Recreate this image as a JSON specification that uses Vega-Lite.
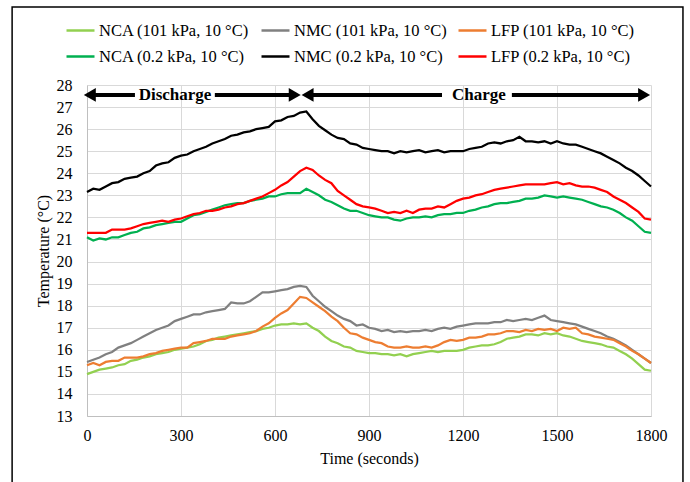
{
  "$schema": "https://vega.github.io/schema/vega-lite/v6.json",
  "width": 564,
  "height": 331,
  "autosize": {"type": "none"},
  "padding": {"left": 87, "top": 85, "right": 39, "bottom": 66},
  "background": "white",
  "config": {
    "font": "Liberation Serif",
    "view": {"stroke": null},
    "axis": {
      "labelFont": "Liberation Serif", "titleFont": "Liberation Serif",
      "labelFontSize": 16, "titleFontSize": 16, "titleFontWeight": "normal",
      "labelColor": "#000", "titleColor": "#000",
      "gridColor": "#D9D9D9", "gridWidth": 1,
      "domainColor": "#BFBFBF", "ticks": false,
      "labelFlush": false, "labelOverlap": false
    },
    "axisX": {"labelPadding": 11, "titlePadding": 7},
    "axisY": {"labelPadding": 15, "titlePadding": 5}
  },
  "datasets": {
    "temps": [
      {"t":0,"NCA1":14.9,"NMC1":15.45,"LFP1":15.3,"NCA2":21.1,"NMC2":23.15,"LFP2":21.3},
      {"t":20,"NCA1":15.0,"NMC1":15.55,"LFP1":15.4,"NCA2":20.95,"NMC2":23.3,"LFP2":21.3},
      {"t":40,"NCA1":15.1,"NMC1":15.65,"LFP1":15.3,"NCA2":21.05,"NMC2":23.25,"LFP2":21.3},
      {"t":60,"NCA1":15.15,"NMC1":15.8,"LFP1":15.45,"NCA2":21.0,"NMC2":23.4,"LFP2":21.3},
      {"t":80,"NCA1":15.2,"NMC1":15.9,"LFP1":15.5,"NCA2":21.1,"NMC2":23.55,"LFP2":21.45},
      {"t":100,"NCA1":15.3,"NMC1":16.1,"LFP1":15.5,"NCA2":21.1,"NMC2":23.6,"LFP2":21.45},
      {"t":120,"NCA1":15.35,"NMC1":16.2,"LFP1":15.65,"NCA2":21.2,"NMC2":23.75,"LFP2":21.45},
      {"t":140,"NCA1":15.5,"NMC1":16.3,"LFP1":15.65,"NCA2":21.3,"NMC2":23.8,"LFP2":21.5},
      {"t":160,"NCA1":15.55,"NMC1":16.45,"LFP1":15.65,"NCA2":21.35,"NMC2":23.85,"LFP2":21.6},
      {"t":180,"NCA1":15.65,"NMC1":16.6,"LFP1":15.7,"NCA2":21.5,"NMC2":24.0,"LFP2":21.7},
      {"t":200,"NCA1":15.7,"NMC1":16.75,"LFP1":15.8,"NCA2":21.55,"NMC2":24.1,"LFP2":21.75},
      {"t":220,"NCA1":15.8,"NMC1":16.9,"LFP1":15.85,"NCA2":21.65,"NMC2":24.35,"LFP2":21.8},
      {"t":240,"NCA1":15.85,"NMC1":17.0,"LFP1":15.95,"NCA2":21.7,"NMC2":24.45,"LFP2":21.85},
      {"t":260,"NCA1":15.9,"NMC1":17.1,"LFP1":16.0,"NCA2":21.75,"NMC2":24.5,"LFP2":21.8},
      {"t":280,"NCA1":16.0,"NMC1":17.3,"LFP1":16.05,"NCA2":21.8,"NMC2":24.7,"LFP2":21.9},
      {"t":300,"NCA1":16.05,"NMC1":17.4,"LFP1":16.1,"NCA2":21.8,"NMC2":24.8,"LFP2":21.95},
      {"t":320,"NCA1":16.1,"NMC1":17.5,"LFP1":16.1,"NCA2":21.95,"NMC2":24.85,"LFP2":22.05},
      {"t":340,"NCA1":16.15,"NMC1":17.6,"LFP1":16.3,"NCA2":22.1,"NMC2":25.0,"LFP2":22.15},
      {"t":360,"NCA1":16.25,"NMC1":17.6,"LFP1":16.35,"NCA2":22.15,"NMC2":25.1,"LFP2":22.2},
      {"t":380,"NCA1":16.4,"NMC1":17.7,"LFP1":16.4,"NCA2":22.25,"NMC2":25.2,"LFP2":22.3},
      {"t":400,"NCA1":16.45,"NMC1":17.75,"LFP1":16.5,"NCA2":22.35,"NMC2":25.35,"LFP2":22.3},
      {"t":420,"NCA1":16.55,"NMC1":17.8,"LFP1":16.5,"NCA2":22.45,"NMC2":25.45,"LFP2":22.35},
      {"t":440,"NCA1":16.6,"NMC1":17.85,"LFP1":16.5,"NCA2":22.55,"NMC2":25.55,"LFP2":22.45},
      {"t":460,"NCA1":16.65,"NMC1":18.15,"LFP1":16.6,"NCA2":22.6,"NMC2":25.7,"LFP2":22.5},
      {"t":480,"NCA1":16.7,"NMC1":18.1,"LFP1":16.65,"NCA2":22.65,"NMC2":25.75,"LFP2":22.6},
      {"t":500,"NCA1":16.75,"NMC1":18.1,"LFP1":16.7,"NCA2":22.65,"NMC2":25.85,"LFP2":22.65},
      {"t":520,"NCA1":16.8,"NMC1":18.2,"LFP1":16.75,"NCA2":22.75,"NMC2":25.9,"LFP2":22.75},
      {"t":540,"NCA1":16.85,"NMC1":18.4,"LFP1":16.85,"NCA2":22.8,"NMC2":26.0,"LFP2":22.85},
      {"t":560,"NCA1":16.95,"NMC1":18.6,"LFP1":17.05,"NCA2":22.85,"NMC2":26.05,"LFP2":22.95},
      {"t":580,"NCA1":17.0,"NMC1":18.6,"LFP1":17.2,"NCA2":22.95,"NMC2":26.1,"LFP2":23.1},
      {"t":600,"NCA1":17.1,"NMC1":18.65,"LFP1":17.45,"NCA2":22.95,"NMC2":26.35,"LFP2":23.25},
      {"t":620,"NCA1":17.15,"NMC1":18.7,"LFP1":17.65,"NCA2":23.05,"NMC2":26.4,"LFP2":23.45},
      {"t":640,"NCA1":17.15,"NMC1":18.75,"LFP1":17.8,"NCA2":23.1,"NMC2":26.55,"LFP2":23.6},
      {"t":660,"NCA1":17.2,"NMC1":18.85,"LFP1":18.1,"NCA2":23.1,"NMC2":26.6,"LFP2":23.85},
      {"t":680,"NCA1":17.15,"NMC1":18.9,"LFP1":18.4,"NCA2":23.1,"NMC2":26.75,"LFP2":24.1},
      {"t":700,"NCA1":17.2,"NMC1":18.85,"LFP1":18.35,"NCA2":23.3,"NMC2":26.8,"LFP2":24.25},
      {"t":720,"NCA1":17.0,"NMC1":18.45,"LFP1":18.15,"NCA2":23.15,"NMC2":26.45,"LFP2":24.15},
      {"t":740,"NCA1":16.85,"NMC1":18.2,"LFP1":17.95,"NCA2":23.0,"NMC2":26.15,"LFP2":23.9},
      {"t":760,"NCA1":16.6,"NMC1":17.95,"LFP1":17.75,"NCA2":22.8,"NMC2":25.95,"LFP2":23.7},
      {"t":780,"NCA1":16.4,"NMC1":17.75,"LFP1":17.5,"NCA2":22.7,"NMC2":25.75,"LFP2":23.55},
      {"t":800,"NCA1":16.3,"NMC1":17.55,"LFP1":17.3,"NCA2":22.55,"NMC2":25.6,"LFP2":23.2},
      {"t":820,"NCA1":16.15,"NMC1":17.4,"LFP1":17.0,"NCA2":22.4,"NMC2":25.55,"LFP2":23.0},
      {"t":840,"NCA1":16.1,"NMC1":17.3,"LFP1":16.75,"NCA2":22.3,"NMC2":25.35,"LFP2":22.8},
      {"t":860,"NCA1":15.95,"NMC1":17.1,"LFP1":16.7,"NCA2":22.3,"NMC2":25.3,"LFP2":22.6},
      {"t":880,"NCA1":15.9,"NMC1":17.15,"LFP1":16.55,"NCA2":22.2,"NMC2":25.15,"LFP2":22.5},
      {"t":900,"NCA1":15.85,"NMC1":17.0,"LFP1":16.45,"NCA2":22.1,"NMC2":25.1,"LFP2":22.45},
      {"t":920,"NCA1":15.85,"NMC1":16.95,"LFP1":16.35,"NCA2":22.05,"NMC2":25.05,"LFP2":22.4},
      {"t":940,"NCA1":15.8,"NMC1":16.85,"LFP1":16.3,"NCA2":22.0,"NMC2":25.0,"LFP2":22.3},
      {"t":960,"NCA1":15.8,"NMC1":16.9,"LFP1":16.15,"NCA2":22.0,"NMC2":25.0,"LFP2":22.2},
      {"t":980,"NCA1":15.75,"NMC1":16.8,"LFP1":16.1,"NCA2":21.9,"NMC2":24.9,"LFP2":22.25},
      {"t":1000,"NCA1":15.8,"NMC1":16.85,"LFP1":16.1,"NCA2":21.85,"NMC2":25.0,"LFP2":22.2},
      {"t":1020,"NCA1":15.7,"NMC1":16.8,"LFP1":16.15,"NCA2":21.95,"NMC2":24.95,"LFP2":22.3},
      {"t":1040,"NCA1":15.8,"NMC1":16.85,"LFP1":16.1,"NCA2":22.0,"NMC2":25.0,"LFP2":22.2},
      {"t":1060,"NCA1":15.85,"NMC1":16.85,"LFP1":16.1,"NCA2":22.0,"NMC2":25.05,"LFP2":22.35},
      {"t":1080,"NCA1":15.9,"NMC1":16.9,"LFP1":16.15,"NCA2":22.05,"NMC2":24.95,"LFP2":22.4},
      {"t":1100,"NCA1":15.95,"NMC1":16.85,"LFP1":16.1,"NCA2":22.0,"NMC2":25.0,"LFP2":22.4},
      {"t":1120,"NCA1":15.9,"NMC1":16.95,"LFP1":16.2,"NCA2":22.1,"NMC2":25.05,"LFP2":22.5},
      {"t":1140,"NCA1":15.95,"NMC1":17.0,"LFP1":16.35,"NCA2":22.15,"NMC2":24.95,"LFP2":22.45},
      {"t":1160,"NCA1":15.95,"NMC1":16.95,"LFP1":16.45,"NCA2":22.15,"NMC2":25.0,"LFP2":22.6},
      {"t":1180,"NCA1":15.95,"NMC1":17.05,"LFP1":16.4,"NCA2":22.2,"NMC2":25.0,"LFP2":22.75},
      {"t":1200,"NCA1":16.0,"NMC1":17.1,"LFP1":16.45,"NCA2":22.2,"NMC2":25.0,"LFP2":22.85},
      {"t":1220,"NCA1":16.1,"NMC1":17.15,"LFP1":16.55,"NCA2":22.3,"NMC2":25.1,"LFP2":22.9},
      {"t":1240,"NCA1":16.15,"NMC1":17.2,"LFP1":16.55,"NCA2":22.35,"NMC2":25.15,"LFP2":23.0},
      {"t":1260,"NCA1":16.2,"NMC1":17.2,"LFP1":16.6,"NCA2":22.45,"NMC2":25.2,"LFP2":23.05},
      {"t":1280,"NCA1":16.2,"NMC1":17.2,"LFP1":16.7,"NCA2":22.5,"NMC2":25.35,"LFP2":23.15},
      {"t":1300,"NCA1":16.25,"NMC1":17.25,"LFP1":16.7,"NCA2":22.6,"NMC2":25.4,"LFP2":23.25},
      {"t":1320,"NCA1":16.35,"NMC1":17.25,"LFP1":16.75,"NCA2":22.65,"NMC2":25.35,"LFP2":23.3},
      {"t":1340,"NCA1":16.5,"NMC1":17.35,"LFP1":16.85,"NCA2":22.65,"NMC2":25.45,"LFP2":23.35},
      {"t":1360,"NCA1":16.55,"NMC1":17.3,"LFP1":16.85,"NCA2":22.7,"NMC2":25.5,"LFP2":23.4},
      {"t":1380,"NCA1":16.6,"NMC1":17.35,"LFP1":16.8,"NCA2":22.75,"NMC2":25.65,"LFP2":23.45},
      {"t":1400,"NCA1":16.7,"NMC1":17.4,"LFP1":16.9,"NCA2":22.85,"NMC2":25.45,"LFP2":23.5},
      {"t":1420,"NCA1":16.7,"NMC1":17.35,"LFP1":16.85,"NCA2":22.85,"NMC2":25.45,"LFP2":23.5},
      {"t":1440,"NCA1":16.65,"NMC1":17.45,"LFP1":16.95,"NCA2":22.9,"NMC2":25.4,"LFP2":23.5},
      {"t":1460,"NCA1":16.75,"NMC1":17.55,"LFP1":16.9,"NCA2":23.0,"NMC2":25.45,"LFP2":23.5},
      {"t":1480,"NCA1":16.7,"NMC1":17.35,"LFP1":16.95,"NCA2":22.95,"NMC2":25.35,"LFP2":23.55},
      {"t":1500,"NCA1":16.75,"NMC1":17.3,"LFP1":16.85,"NCA2":22.9,"NMC2":25.45,"LFP2":23.6},
      {"t":1520,"NCA1":16.65,"NMC1":17.25,"LFP1":17.0,"NCA2":22.95,"NMC2":25.35,"LFP2":23.5},
      {"t":1540,"NCA1":16.6,"NMC1":17.2,"LFP1":16.95,"NCA2":22.9,"NMC2":25.3,"LFP2":23.55},
      {"t":1560,"NCA1":16.5,"NMC1":17.15,"LFP1":17.0,"NCA2":22.85,"NMC2":25.3,"LFP2":23.45},
      {"t":1580,"NCA1":16.4,"NMC1":17.05,"LFP1":16.75,"NCA2":22.8,"NMC2":25.2,"LFP2":23.4},
      {"t":1600,"NCA1":16.35,"NMC1":16.95,"LFP1":16.7,"NCA2":22.7,"NMC2":25.1,"LFP2":23.4},
      {"t":1620,"NCA1":16.3,"NMC1":16.85,"LFP1":16.6,"NCA2":22.6,"NMC2":25.0,"LFP2":23.35},
      {"t":1640,"NCA1":16.25,"NMC1":16.75,"LFP1":16.55,"NCA2":22.5,"NMC2":24.9,"LFP2":23.25},
      {"t":1660,"NCA1":16.15,"NMC1":16.6,"LFP1":16.5,"NCA2":22.45,"NMC2":24.75,"LFP2":23.15},
      {"t":1680,"NCA1":16.1,"NMC1":16.5,"LFP1":16.45,"NCA2":22.35,"NMC2":24.6,"LFP2":22.95},
      {"t":1700,"NCA1":15.95,"NMC1":16.35,"LFP1":16.3,"NCA2":22.2,"NMC2":24.45,"LFP2":22.8},
      {"t":1720,"NCA1":15.8,"NMC1":16.2,"LFP1":16.15,"NCA2":22.0,"NMC2":24.25,"LFP2":22.65},
      {"t":1740,"NCA1":15.6,"NMC1":16.0,"LFP1":15.95,"NCA2":21.85,"NMC2":24.1,"LFP2":22.45},
      {"t":1760,"NCA1":15.35,"NMC1":15.8,"LFP1":15.8,"NCA2":21.6,"NMC2":23.9,"LFP2":22.25},
      {"t":1780,"NCA1":15.1,"NMC1":15.6,"LFP1":15.6,"NCA2":21.35,"NMC2":23.65,"LFP2":21.95},
      {"t":1800,"NCA1":15.05,"NMC1":15.4,"LFP1":15.4,"NCA2":21.3,"NMC2":23.4,"LFP2":21.9}
    ]
  },
  "layer": [
    {
      "data": {"name": "temps"},
      "transform": [{"fold": ["NCA1", "NMC1", "LFP1", "NCA2", "NMC2", "LFP2"], "as": ["series", "temp"]}],
      "mark": {"type": "line", "strokeWidth": 2.25, "interpolate": "linear"},
      "encoding": {
        "x": {
          "field": "t", "type": "quantitative", "title": "Time (seconds)",
          "scale": {"domain": [0, 1800], "nice": false},
          "axis": {"values": [0, 300, 600, 900, 1200, 1500, 1800], "format": "d", "tickCount": 20}
        },
        "y": {
          "field": "temp", "type": "quantitative", "title": "Temperature (°C)",
          "scale": {"domain": [13, 28], "nice": false, "zero": false},
          "axis": {"values": [13, 14, 15, 16, 17, 18, 19, 20, 21, 22, 23, 24, 25, 26, 27, 28], "format": "d", "tickCount": 40}
        },
        "color": {
          "field": "series", "type": "nominal",
          "scale": {
            "domain": ["NCA1", "NMC1", "LFP1", "NCA2", "NMC2", "LFP2"],
            "range": ["#92D050", "#808080", "#ED7D31", "#00B050", "#000000", "#FF0000"]
          },
          "legend": {
            "orient": "none", "legendX": -22, "legendY": -70,
            "direction": "horizontal", "columns": 3, "title": null,
            "symbolType": "stroke", "symbolSize": 784, "symbolStrokeWidth": 2.5,
            "labelFont": "Liberation Serif", "labelFontSize": 16.5, "labelColor": "#000",
            "labelOffset": 3, "columnPadding": 6, "rowPadding": 2, "labelLimit": 300,
            "labelExpr": "{'NCA1':'NCA (101 kPa, 10 °C)','NMC1':'NMC (101 kPa, 10 °C)','LFP1':'LFP (101 kPa, 10 °C)','NCA2':'NCA (0.2 kPa, 10 °C)','NMC2':'NMC (0.2 kPa, 10 °C)','LFP2':'LFP (0.2 kPa, 10 °C)'}[datum.value]"
          }
        }
      }
    },
    {
      "data": {"values": [{}]},
      "mark": {"type": "rect", "filled": false, "color": "#000", "strokeWidth": 1.5},
      "encoding": {
        "x": {"datum": -239, "type": "quantitative", "title": "Time (seconds)", "scale": {"domain": [0, 1800], "nice": false}},
        "x2": {"datum": 1902},
        "y": {"datum": 31.53, "type": "quantitative", "title": "Temperature (°C)", "scale": {"domain": [13, 28], "nice": false, "zero": false}},
        "y2": {"datum": 9.6}
      }
    },
    {
      "data": {"values": [{"x1": 9, "x2": 153}, {"x1": 408, "x2": 663}, {"x1": 704, "x2": 1133}, {"x1": 1356, "x2": 1778}]},
      "mark": {"type": "rule", "color": "#000", "strokeWidth": 4},
      "encoding": {
        "x": {"field": "x1", "type": "quantitative", "title": "Time (seconds)", "scale": {"domain": [0, 1800], "nice": false}},
        "x2": {"field": "x2"},
        "y": {"datum": 27.55, "type": "quantitative", "title": "Temperature (°C)", "scale": {"domain": [13, 28], "nice": false, "zero": false}}
      }
    },
    {
      "data": {"values": [{"x": 9, "dir": "triangle-left"}, {"x": 663, "dir": "triangle-right"}, {"x": 704, "dir": "triangle-left"}, {"x": 1778, "dir": "triangle-right"}]},
      "mark": {"type": "point", "filled": true, "color": "#000", "size": 192, "opacity": 1},
      "encoding": {
        "x": {"field": "x", "type": "quantitative", "title": "Time (seconds)", "scale": {"domain": [0, 1800], "nice": false}},
        "y": {"datum": 27.55, "type": "quantitative", "title": "Temperature (°C)", "scale": {"domain": [13, 28], "nice": false, "zero": false}},
        "shape": {"field": "dir", "type": "nominal", "scale": null}
      }
    },
    {
      "data": {"values": [{"x": 281, "label": "Discharge"}, {"x": 1251, "label": "Charge"}]},
      "mark": {"type": "text", "font": "Liberation Serif", "fontWeight": "bold", "fontSize": 17, "color": "#000", "align": "center", "baseline": "middle"},
      "encoding": {
        "x": {"field": "x", "type": "quantitative", "title": "Time (seconds)", "scale": {"domain": [0, 1800], "nice": false}},
        "y": {"datum": 27.55, "type": "quantitative", "title": "Temperature (°C)", "scale": {"domain": [13, 28], "nice": false, "zero": false}},
        "text": {"field": "label"}
      }
    }
  ]
}
